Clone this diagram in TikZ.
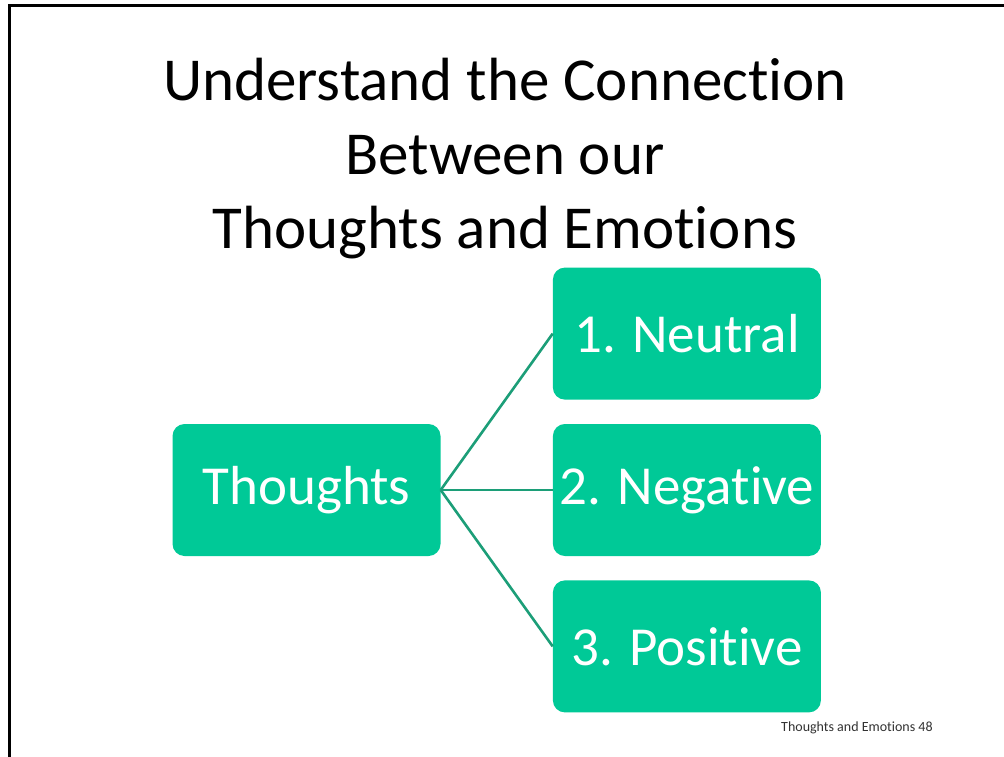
\documentclass[tikz,border=0pt]{standalone}
\usepackage{fontspec}
\setmainfont{Carlito}[Ligatures=CommonOff]
\usetikzlibrary{positioning}
\definecolor{boxgreen}{RGB}{0,201,151}
\definecolor{linkgreen}{RGB}{28,158,120}
\definecolor{footgray}{RGB}{50,50,50}
\tikzset{
	x=1pt, y=-1pt,
	title/.style={anchor=base, inner sep=0pt, font=\fontsize{61}{73}\selectfont},
	stepbox/.style={fill=boxgreen, rounded corners=12pt, inner sep=0pt,
		minimum width=268pt, minimum height=132pt, text=white,
		font=\fontsize{55}{66}\selectfont},
	link/.style={draw=linkgreen, line width=2.6pt},
}

\begin{document}
\begin{tikzpicture}
			\useasboundingbox (0,0) rectangle (1004,757);
			\draw[line width=3pt] (9,757) |- (1004,6);
			
			\node[title] (t1) at (505,101) {Understand the Connection};
			\node[title] (t2) at (505,175) {Between our};
			\node[title] (t3) at (505,248) {Thoughts and Emotions};
			
			\node[stepbox] (THOUGHTS) at (306.5,490) {Thoughts};
			\node[stepbox, right=112pt of THOUGHTS] (NEGATIVE) {2. Negative};
			\node[stepbox, above=24pt of NEGATIVE] (NEUTRAL) {1. Neutral};
			\node[stepbox, below=24pt of NEGATIVE] (POSITIVE) {3. Positive};
			
			\draw[link] (THOUGHTS.east) -- (NEUTRAL.west);
			\draw[link] (THOUGHTS.east) -- (NEGATIVE.west);
			\draw[link] (THOUGHTS.east) -- (POSITIVE.west);
			
			\node[anchor=base west, inner sep=0pt, text=footgray, font=\fontsize{14}{17}\selectfont] (footer) at (781,731) {Thoughts and Emotions 48};
		\end{tikzpicture}
\end{document}
